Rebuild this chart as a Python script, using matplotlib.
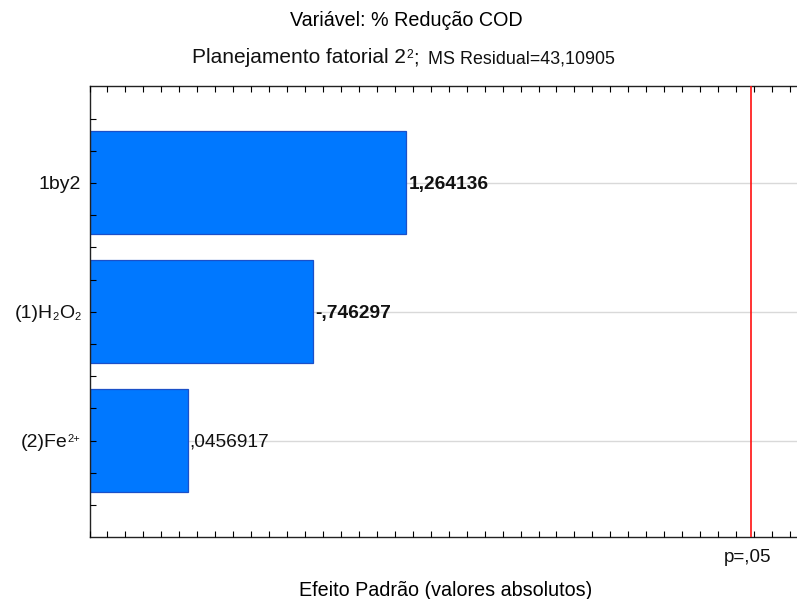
import matplotlib
matplotlib.use("Agg")
import matplotlib.pyplot as plt
from matplotlib.transforms import IdentityTransform, offset_copy

plt.rcParams['font.family'] = ['Liberation Sans', 'DejaVu Sans']

# Standardized effects (Pareto chart), largest first.
# Each factor name is a list of (text, kind) pieces: 'n' normal, 'sub', 'sup'
factors = [
    [('1by2', 'n')],
    [('(1)H', 'n'), ('2', 'sub'), ('O', 'n'), ('2', 'sub')],
    [('(2)Fe', 'n'), ('2+', 'sup')],
]
effects = [1.264136, -0.746297, 0.0456917]
effect_labels = ['1,264136', '-,746297', ',0456917']
label_bold = [True, True, False]
t_crit = 3.182446          # p = .05 reference line
crit_label = 'p=,05'

title1 = 'Variável: % Redução COD'
title2a = 'Planejamento fatorial 2'
title2sup = '2'
title2c = ';'
title2b = 'MS Residual=43,10905'
xlabel = 'Efeito Padrão (valores absolutos)'

W, H = 797, 599
fig = plt.figure(figsize=(W / 100, H / 100), dpi=100)
x0, x1 = 89.5, 800
y_top, y_bot = 86.3, 537.3
ax = fig.add_axes([x0 / W, 1 - y_bot / H, (x1 - x0) / W, (y_bot - y_top) / H])

xmin = -0.5
xmax = xmin + (x1 - x0) / 179.6
ax.set_xlim(xmin, xmax)
ax.set_ylim(3.75, 0.25)

ypos = [1, 2, 3]
abs_eff = [abs(e) for e in effects]
ax.barh(ypos, [a - xmin for a in abs_eff], left=xmin, height=0.8,
        color='#0078ff', edgecolor='#1b50c8', linewidth=0.9, zorder=2)

for y in ypos:
    ax.axhline(y, color='#d9d9d9', linewidth=1.0, zorder=1)

ax.axvline(t_crit, color='#ff1010', linewidth=1.2, zorder=4)

val_tr = offset_copy(ax.transData, fig=fig, x=0, y=-1.5, units='dots')
for y, a, lab, b in zip(ypos, abs_eff, effect_labels, label_bold):
    ax.text(a + 0.012, y, lab, va='center', ha='left', fontsize=13.8,
            fontweight='bold' if b else 'normal', color='#111111', zorder=5,
            transform=val_tr)

ax.set_yticks(ypos)
ax.set_yticklabels([])
ax.set_yticks([0.5 + 0.25 * i for i in range(13)], minor=True)
ax.set_xticks([])
ax.set_xticks([xmin + 0.1 * i for i in range(40) if xmin + 0.1 * i < xmax], minor=True)
ax.tick_params(axis='y', which='both', direction='in', length=4, width=0.8, left=True)
ax.tick_params(axis='x', which='both', direction='in', length=4, width=0.8, top=True, bottom=True)
ax.spines['right'].set_visible(False)
for s in ['left', 'top', 'bottom']:
    ax.spines[s].set_linewidth(1.0)
    ax.spines[s].set_color('#222222')
ax.set_axisbelow(False)

renderer = fig.canvas.get_renderer()


def rich_label(pieces, x_right, y_base, size=14.0, small=8.0):
    """Draw a label built from pieces, right edge at x_right (display px)."""
    texts = []
    x = 0.0
    for txt, kind in pieces:
        fs = size if kind == 'n' else small
        dy = 0 if kind == 'n' else (-2.5 if kind == 'sub' else 4.5)
        t = fig.text(x, y_base + dy, txt, fontsize=fs, ha='left', va='baseline',
                     transform=IdentityTransform(), color='#111111')
        w = t.get_window_extent(renderer).width
        texts.append((t, x, y_base + dy))
        x += w
    shift = x_right - x
    for t, xx, yy in texts:
        t.set_position((xx + shift, yy))


for y, pieces in zip(ypos, factors):
    ypix = H - (y_top + (y - 0.25) / 3.5 * (y_bot - y_top))
    rich_label(pieces, 80.5, ypix - 6.0)

ax.text(t_crit - 0.02, 3.91, crit_label, ha='center', va='center', fontsize=13.6, color='#111111')

fig.text(446 / W, 1 - 591 / H, xlabel, ha='center', va='center', fontsize=14.2)
fig.text(406 / W, 1 - 20 / H, title1, ha='center', va='center', fontsize=14.2)

# second title line: main part, superscript, semicolon, smaller statistics part
yb = H - 63
ta = fig.text(192.5, yb, title2a, fontsize=15.0, ha='left', va='baseline',
              transform=IdentityTransform(), color='#111111')
xa = 192.5 + ta.get_window_extent(renderer).width
ts = fig.text(xa + 0.5, yb + 5, title2sup, fontsize=8.8, ha='left', va='baseline',
              transform=IdentityTransform(), color='#111111')
xs = xa + 0.5 + ts.get_window_extent(renderer).width
tc = fig.text(xs, yb, title2c, fontsize=14.2, ha='left', va='baseline',
              transform=IdentityTransform(), color='#111111')
fig.text(428, yb, title2b, fontsize=12.9, ha='left', va='baseline',
         transform=IdentityTransform(), color='#111111')

fig.savefig('out.png', dpi=100)
